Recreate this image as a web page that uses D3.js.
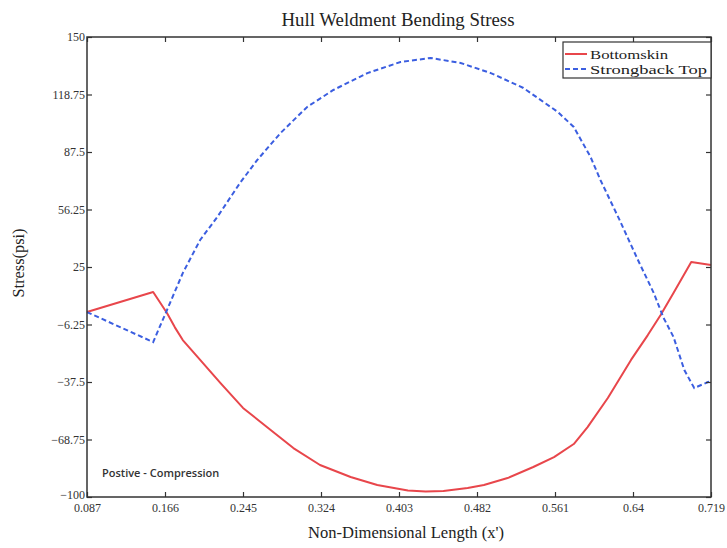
<!DOCTYPE html>
<html><head><meta charset="utf-8">
<script src="https://cdn.jsdelivr.net/npm/d3@7"></script>
<style>body{margin:0;background:#fff}svg{display:block}</style>
</head><body>
<script>
const xTicks = [0.087,0.166,0.245,0.324,0.403,0.482,0.561,0.64,0.719];
const xTickLabels = ["0.087","0.166","0.245","0.324","0.403","0.482","0.561","0.64","0.719"];
const yTicks = [150,118.75,87.5,56.25,25,-6.25,-37.5,-68.75,-100];
const yTickLabels = ["150","118.75","87.5","56.25","25","\u22126.25","\u221237.5","\u221268.75","\u2212100"];

const bottomX = [0.087,0.154,0.168,0.176,0.184,0.2016,0.222,0.245,0.273,0.296,0.323,0.354,0.381,0.412,0.430,0.448,0.4725,0.489,0.513,0.539,0.560,0.580,0.594,0.6145,0.638,0.655,0.668,0.681,0.699,0.719];
const bottomY = [0.5,11.4,0.0,-7.8,-14.7,-25.5,-38.0,-51.6,-63.6,-73.4,-82.6,-89.1,-93.5,-96.5,-97.0,-96.7,-95.1,-93.5,-89.7,-83.7,-78.3,-71.2,-62.0,-46.2,-25.5,-12.0,-1.1,10.9,27.7,26.1];

const strongX = [0.087,0.154,0.168,0.184,0.2016,0.219,0.242,0.2595,0.283,0.310,0.3365,0.371,0.4045,0.435,0.4654,0.496,0.529,0.564,0.580,0.597,0.607,0.626,0.645,0.661,0.671,0.681,0.692,0.702,0.716,0.719];
const strongY = [0.5,-15.8,1.6,21.7,39.7,52.2,70.7,83.2,97.8,112.0,121.2,130.4,136.4,138.6,135.9,130.4,122.3,109.2,101.1,84.8,72.3,51.0,28.8,10.9,-2.7,-13.0,-31.0,-40.8,-37.5,-37.0];

const seriesNames = ["Bottomskin","Strongback Top"];
const seriesColors = ["#e8464b","#3b5ee0"];

const W=727,H=548;
const L=87,R=711,T=37,B=497;
const svg=d3.select("body").append("svg").attr("width",W).attr("height",H);
const x=d3.scaleLinear().domain([0.087,0.719]).range([L,R]);
const y=d3.scaleLinear().domain([-100,150]).range([B,T]);

const serif="'Liberation Serif','Times New Roman',serif";
const frameColor="#333";

// lines
const line=d3.line().x(d=>x(d[0])).y(d=>y(d[1]));
const bData=bottomX.map((v,i)=>[v,bottomY[i]]);
const sData=strongX.map((v,i)=>[v,strongY[i]]);
svg.append("path").datum(bData).attr("d",line).attr("fill","none")
  .attr("stroke",seriesColors[0]).attr("stroke-width",2).attr("stroke-linejoin","round");
svg.append("path").datum(sData).attr("d",line).attr("fill","none")
  .attr("stroke",seriesColors[1]).attr("stroke-width",2).attr("stroke-dasharray","5,3");

// axes
function styleAxis(g){
  g.select(".domain").remove();
  g.selectAll(".tick line").attr("stroke",frameColor).attr("stroke-width",1.2);
  g.selectAll(".tick text").attr("font-family",serif).attr("font-size",12).attr("fill","#333");
}
const xb=svg.append("g").attr("transform",`translate(0,${B})`)
  .call(d3.axisBottom(x).tickValues(xTicks).tickFormat((d,i)=>xTickLabels[i]).tickSizeInner(-5).tickSizeOuter(0).tickPadding(4));
styleAxis(xb);
xb.selectAll(".tick text").attr("dy","0.9em");
const xt=svg.append("g").attr("transform",`translate(0,${T})`)
  .call(d3.axisTop(x).tickValues(xTicks).tickFormat("").tickSizeInner(-5).tickSizeOuter(0));
styleAxis(xt);
const yl=svg.append("g").attr("transform",`translate(${L},0)`)
  .call(d3.axisLeft(y).tickValues(yTicks).tickFormat((d,i)=>yTickLabels[i]).tickSizeInner(-5).tickSizeOuter(0).tickPadding(2));
styleAxis(yl);
yl.selectAll(".tick text").filter(d=>d===-100).attr("dy","0.1em");
const yr=svg.append("g").attr("transform",`translate(${R},0)`)
  .call(d3.axisRight(y).tickValues(yTicks).tickFormat("").tickSizeInner(-5).tickSizeOuter(0));
styleAxis(yr);

// frame
svg.append("rect").attr("x",L).attr("y",T).attr("width",R-L).attr("height",B-T)
  .attr("fill","none").attr("stroke",frameColor).attr("stroke-width",1.5);

// title & labels
svg.append("text").attr("x",398).attr("y",26).attr("text-anchor","middle")
  .attr("font-family",serif).attr("font-size",18).attr("fill","#222")
  .attr("textLength",233).attr("lengthAdjust","spacingAndGlyphs").text("Hull Weldment Bending Stress");
svg.append("text").attr("x",406).attr("y",538).attr("text-anchor","middle")
  .attr("font-family",serif).attr("font-size",16.5).attr("fill","#222")
  .attr("textLength",196).attr("lengthAdjust","spacingAndGlyphs").text("Non-Dimensional Length (x')");
svg.append("text").attr("transform","translate(24,263) rotate(-90)").attr("text-anchor","middle")
  .attr("font-family",serif).attr("font-size",16.5).attr("fill","#222")
  .attr("textLength",69).attr("lengthAdjust","spacingAndGlyphs").text("Stress(psi)");

// annotation
svg.append("text").attr("x",102).attr("y",477).attr("font-family","'Open Sans','Liberation Sans',sans-serif")
  .attr("font-size",11).attr("font-weight",600).attr("fill","#333").text("Postive - Compression");

// legend
const lg=svg.append("g");
lg.append("rect").attr("x",563).attr("y",42).attr("width",R-563).attr("height",36)
  .attr("fill","#fff").attr("stroke",frameColor).attr("stroke-width",1.2);
const legW=[78,117];
seriesNames.forEach((n,i)=>{
  const yy=54+i*15;
  lg.append("line").attr("x1",565).attr("x2",587).attr("y1",yy).attr("y2",yy)
    .attr("stroke",seriesColors[i]).attr("stroke-width",2).attr("stroke-dasharray",i?"5,3":null);
  lg.append("text").attr("x",590).attr("y",yy+4.5).attr("font-family",serif).attr("font-size",13)
    .attr("fill","#222").attr("textLength",legW[i]).attr("lengthAdjust","spacingAndGlyphs").text(n);
});
</script>
</body></html>
